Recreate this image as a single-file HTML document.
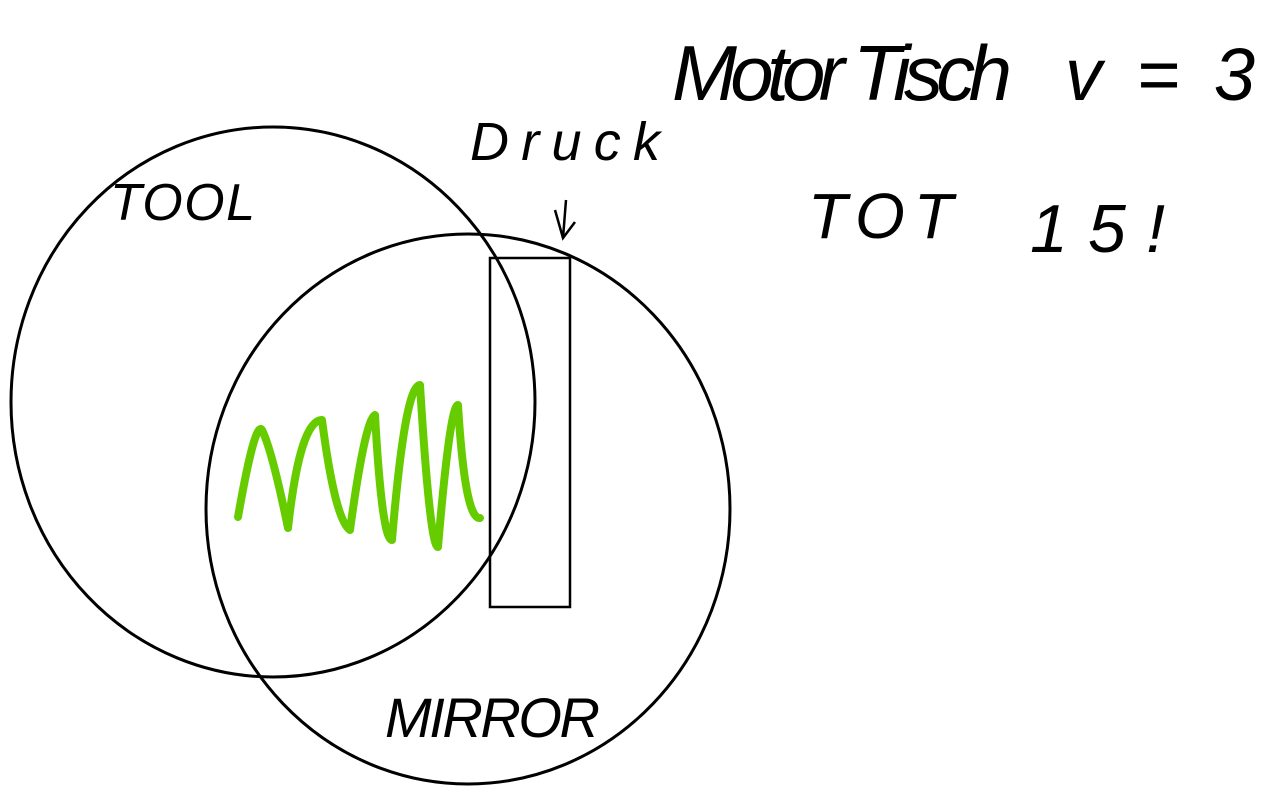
<!DOCTYPE html>
<html>
<head>
<meta charset="utf-8">
<style>
html,body{margin:0;padding:0;background:#fff;width:1280px;height:796px;overflow:hidden;}
svg{display:block}
text{font-family:"Liberation Sans",sans-serif;fill:#000;font-style:italic;}
</style>
</head>
<body>
<svg width="1280" height="796" viewBox="0 0 1280 796" xmlns="http://www.w3.org/2000/svg">
<g fill="none" stroke="#000" stroke-width="3">
<ellipse cx="273" cy="402" rx="262" ry="275"/>
<ellipse cx="468" cy="509" rx="262" ry="275"/>
<rect x="490" y="258" width="80" height="349" stroke-width="2.5"/>
<path d="M555 210 L563 238 L575 222 M563 238 L566 200" stroke-width="2.5"/>
</g>
<path d="M238 517 Q255 420 262 430 Q272 450 288 528 Q300 420 322 420 Q335 520 350 530 Q365 420 375 415 Q382 540 392 540 Q405 385 420 385 Q430 547 438 547 Q450 405 458 405 Q465 520 480 518" fill="none" stroke="#66cc00" stroke-width="8" stroke-linecap="round" stroke-linejoin="round"/>
<text x="672" y="100" font-size="78" textLength="340">Motor Tisch</text>
<text x="1065" y="100" font-size="74" textLength="190">v=3</text>
<text x="470" y="160" font-size="54" textLength="190">Druck</text>
<text x="110" y="220" font-size="52" textLength="145">TOOL</text>
<text x="808" y="238" font-size="64" textLength="145">TOT</text>
<text x="1030" y="252" font-size="68" textLength="135">15!</text>
<text x="385" y="737" font-size="56" textLength="215">MIRROR</text>
</svg>
</body>
</html>
